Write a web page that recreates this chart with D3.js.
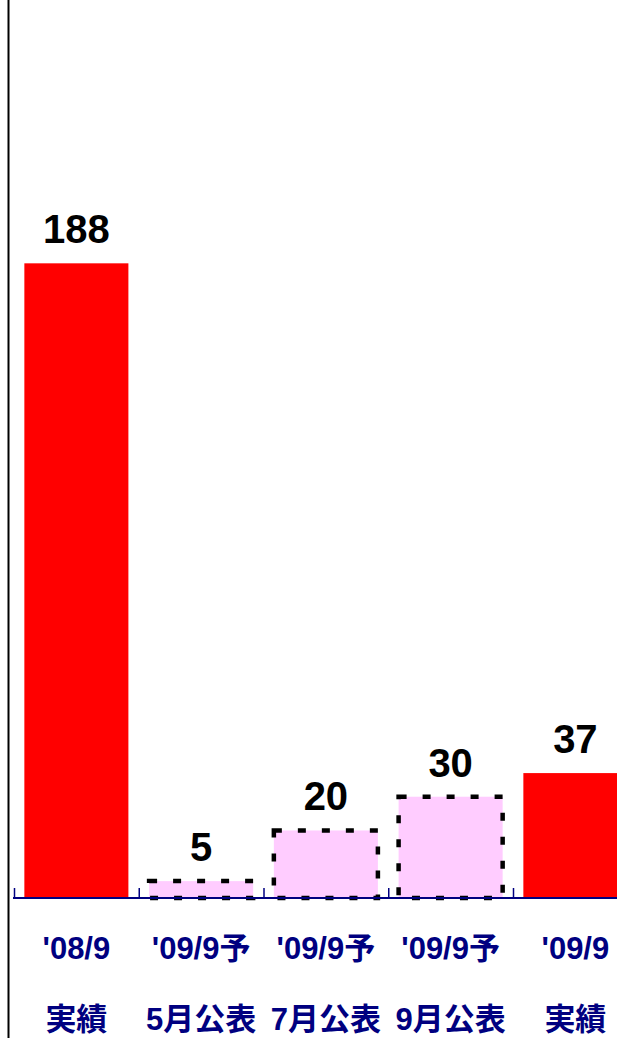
<!DOCTYPE html>
<html>
<head>
<meta charset="utf-8">
<script src="https://cdn.jsdelivr.net/npm/d3@7"></script>
<style>
  html, body { margin: 0; padding: 0; background: #fff; overflow: hidden; }
  svg { display: block; }
</style>
</head>
<body>
<div id="chart"></div>
<script>
const categories = ['c1', 'c2', 'c3', 'c4', 'c5']
const labelTop = ["'08/9", "'09/9予", "'09/9予", "'09/9予", "'09/9"]
const labelBottom = ['実績', '5月公表', '7月公表', '9月公表', '実績']
const values = [188, 5, 20, 30, 37]
const kinds = ['actual', 'forecast', 'forecast', 'forecast', 'actual']

const op = {
  width: 617,
  height: 1038,
  baseY: 898,
  left: 14,
  step: 124.75,
  yMax: 266,
  red: '#ff0000',
  pink: '#ffccff',
  navy: '#000080',
  font: '"Liberation Sans", Arial, "Noto Sans CJK JP", sans-serif'
}

const { width: w, height: h, baseY, left, step, yMax, font } = op
const n = categories.length

let x = d3.scaleBand().domain(categories)
  .range([left, left + step * n])
  .paddingInner(0.166).paddingOuter(0.083)
let slot = d3.scaleLinear().domain([0, n]).range([left, left + step * n])
let y = d3.scaleLinear().domain([0, yMax]).range([baseY, 0])

let svg = d3.select('#chart').append('svg').attr('width', w).attr('height', h)

// left frame line
svg.append('line')
  .attr('x1', 8.5).attr('x2', 8.5).attr('y1', 0).attr('y2', h)
  .attr('stroke', '#000').attr('stroke-width', 2)

// bars
let series = svg.selectAll('.series').data(categories).enter()
  .append('g').classed('series', true)

series.append('rect')
  .attr('x', d => x(d))
  .attr('width', x.bandwidth())
  .attr('y', (d, i) => y(values[i]))
  .attr('height', (d, i) => baseY - y(values[i]))
  .attr('fill', (d, i) => kinds[i] === 'actual' ? op.red : op.pink)
  .attr('stroke', (d, i) => kinds[i] === 'actual' ? 'none' : '#000')
  .attr('stroke-width', 4.5)
  .attr('stroke-dasharray', '8,16')

// axis (ticks on category boundaries)
let axis = svg.append('g').classed('axis', true)
  .attr('transform', `translate(0, ${baseY})`)
  .call(d3.axisBottom(slot).tickValues(d3.range(n + 1)).tickSize(-10).tickFormat(''))
axis.select('.domain').remove()
axis.selectAll('.tick line').attr('stroke', op.navy).attr('stroke-width', 1.5)
svg.append('line')
  .attr('x1', 13).attr('x2', w).attr('y1', baseY).attr('y2', baseY)
  .attr('stroke', op.navy).attr('stroke-width', 2)

// value labels
series.append('text')
  .text((d, i) => values[i])
  .attr('x', d => x(d) + x.bandwidth() / 2)
  .attr('y', (d, i) => y(values[i]) - 20)
  .attr('text-anchor', 'middle')
  .attr('font-family', font)
  .attr('font-weight', 'bold')
  .attr('font-size', '40px')
  .attr('fill', '#000')

// category labels
let cat = svg.selectAll('.cat').data(categories).enter()
  .append('text').classed('cat', true)
  .attr('text-anchor', 'middle')
  .attr('font-family', font)
  .attr('font-weight', 'bold')
  .attr('font-size', '31px')
  .attr('fill', op.navy)
cat.append('tspan')
  .attr('x', d => x(d) + x.bandwidth() / 2).attr('y', 959)
  .text((d, i) => labelTop[i])
cat.append('tspan')
  .attr('x', d => x(d) + x.bandwidth() / 2).attr('y', 1030)
  .text((d, i) => labelBottom[i])
</script>
</body>
</html>
